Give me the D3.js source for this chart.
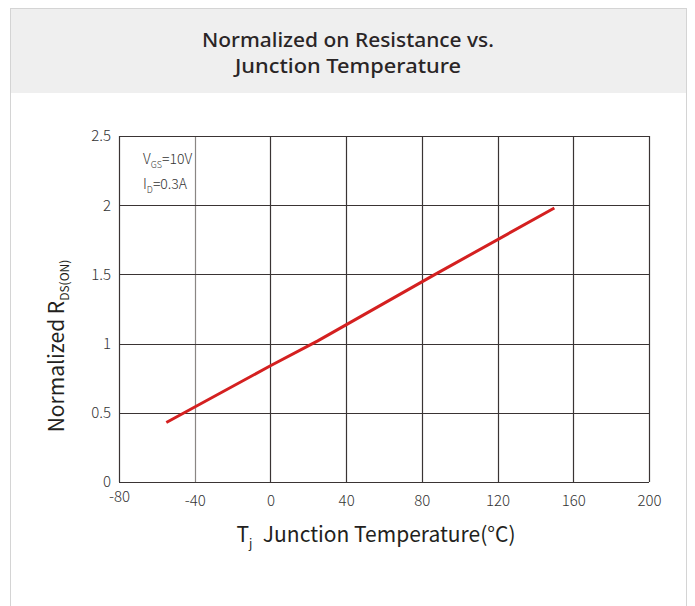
<!DOCTYPE html>
<html><head><meta charset="utf-8">
<script src="https://cdn.jsdelivr.net/npm/d3@7"></script>
<style>
body{margin:0;background:#fff;}
svg{display:block;font-family:"Noto Sans CJK SC","Noto Sans",sans-serif;}
</style></head>
<body>
<svg id="chart" width="695" height="606"></svg>
<script>
const titleLines = ["Normalized on Resistance vs.", "Junction Temperature"];
const xTicks = [-80, -40, 0, 40, 80, 120, 160, 200];
const xTickLabels = ["-80", "-40", "0", "40", "80", "120", "160", "200"];
const yTicks = [0, 0.5, 1, 1.5, 2, 2.5];
const yTickLabels = ["0", "0.5", "1", "1.5", "2", "2.5"];
const temperature = [-55, 0, 25, 87, 150];
const rdsOn = [0.43, 0.84, 1.02, 1.50, 1.98];

const svg = d3.select("#chart");
// card
svg.append("rect").attr("x",10.5).attr("y",8.5).attr("width",676).attr("height",620)
  .attr("fill","#fff").attr("stroke","#d4d4d4");
svg.append("rect").attr("x",11).attr("y",9).attr("width",675).attr("height",84).attr("fill","#efefef");
svg.selectAll(".title").data(titleLines).join("text").attr("class","title")
  .attr("x",348).attr("y",(d,i)=>47+i*26.3).attr("text-anchor","middle")
  .attr("font-family","'Noto Sans',sans-serif")
  .attr("font-size",19).attr("font-weight",500).attr("fill","#2a2526")
  .attr("textLength",(d,i)=>i?226:292).attr("lengthAdjust","spacingAndGlyphs")
  .text(d=>d);

const x = d3.scaleLinear().domain([-80,200]).range([119,649]);
const y = d3.scaleLinear().domain([0,2.5]).range([482,136]);

const g = svg.append("g");
// grid
g.selectAll(".vg").data(xTicks).join("line")
  .attr("x1",d=>Math.round(x(d))+0.5).attr("x2",d=>Math.round(x(d))+0.5)
  .attr("y1",y(2.5)).attr("y2",y(0))
  .attr("stroke",d=>d===-40?"#8a8684":"#3a3434").attr("stroke-width",1.2);
g.selectAll(".hg").data(yTicks).join("line")
  .attr("y1",d=>Math.round(y(d))+0.5).attr("y2",d=>Math.round(y(d))+0.5)
  .attr("x1",x(-80)).attr("x2",x(200))
  .attr("stroke","#3a3434").attr("stroke-width",1.2);

const tickFont = "'Noto Sans CJK SC','Noto Sans',sans-serif";
// axes labels via d3 axes
const xAxis = svg.append("g").attr("transform",`translate(0,${y(0)})`)
  .call(d3.axisBottom(x).tickValues(xTicks).tickSize(0).tickPadding(13).tickFormat((d,i)=>xTickLabels[i]));
xAxis.select(".domain").remove();
xAxis.selectAll("text").attr("font-size",15).attr("font-weight",300).attr("fill","#333")
  .attr("font-family",tickFont)
  .attr("dy",(d)=>d===-80?"0.45em":"0.71em");
const yAxis = svg.append("g").attr("transform",`translate(${x(-80)},0)`)
  .call(d3.axisLeft(y).tickValues(yTicks).tickSize(0).tickPadding(8).tickFormat((d,i)=>yTickLabels[i]));
yAxis.select(".domain").remove();
yAxis.selectAll("text").attr("font-size",15).attr("font-weight",300).attr("fill","#333")
  .attr("font-family",tickFont).attr("dy","0.32em");

// data line
const pts = temperature.map((t,i)=>[t,rdsOn[i]]);
svg.append("path").datum(pts)
  .attr("d",d3.line().x(d=>x(d[0])).y(d=>y(d[1])))
  .attr("fill","none").attr("stroke","#d42020").attr("stroke-width",3);

// annotation
const ann = svg.append("text").attr("x",143).attr("y",164).attr("font-size",14)
  .attr("font-weight",300).attr("fill","#333");
ann.append("tspan").text("V");
ann.append("tspan").attr("font-size",9).attr("dy",4).text("GS");
ann.append("tspan").attr("dy",-4).text("=10V");
const ann2 = svg.append("text").attr("x",143).attr("y",189).attr("font-size",14)
  .attr("font-weight",300).attr("fill","#333");
ann2.append("tspan").text("I");
ann2.append("tspan").attr("font-size",9).attr("dy",4).text("D");
ann2.append("tspan").attr("dy",-4).text("=0.3A");

// x label
const xl = svg.append("text").attr("x",376).attr("y",542).attr("text-anchor","middle")
  .attr("font-size",21).attr("font-weight",400).attr("fill","#231f20");
xl.append("tspan").text("T");
xl.append("tspan").attr("font-size",12).attr("dy",6).text("j");
xl.append("tspan").attr("dy",-6).text("\u2002Junction Temperature(°C)");

// y label
const yl = svg.append("text").attr("transform","translate(64,346) rotate(-90)")
  .attr("text-anchor","middle").attr("font-size",21).attr("font-weight",400).attr("fill","#231f20");
yl.append("tspan").text("Normalized R");
yl.append("tspan").attr("font-size",12).attr("dy",5).text("DS(ON)");
</script>
</body></html>
